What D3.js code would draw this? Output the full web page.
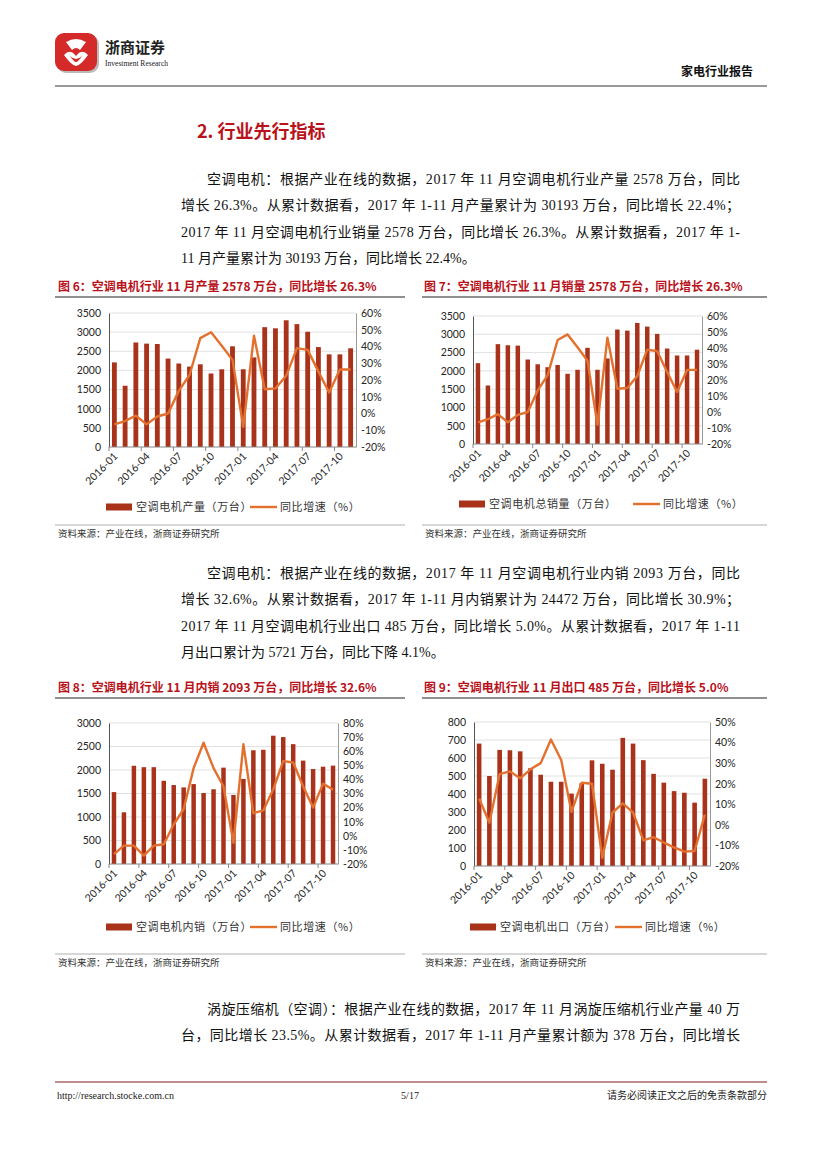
<!DOCTYPE html>
<html><head><meta charset="utf-8">
<script src="https://cdn.jsdelivr.net/npm/d3@7"></script>
<style>
html,body{margin:0;padding:0;background:#fff;}
svg{display:block;}
</style></head>
<body>
<svg id="page" width="827" height="1169"></svg>
<script>
// ---------------- DATA ----------------
const months = ["2016-01","2016-02","2016-03","2016-04","2016-05","2016-06","2016-07","2016-08","2016-09","2016-10","2016-11","2016-12",
"2017-01","2017-02","2017-03","2017-04","2017-05","2017-06","2017-07","2017-08","2017-09","2017-10","2017-11"];
const tickMonths = ["2016-01","2016-04","2016-07","2016-10","2017-01","2017-04","2017-07","2017-10"];

const productionValues = [2210,1600,2730,2700,2690,2310,2180,2100,2160,1920,2030,2630,2030,2340,3130,3100,3310,3210,3010,2610,2420,2420,2578];
const productionGrowth = [-6.5,-4.5,-1.3,-6.5,-1.8,0,13.5,23,45,48.5,40.5,32,-8,46.5,14.5,15,22.5,39,38,25,12.5,26.3,26.3];

const salesValues = [2210,1600,2730,2700,2690,2310,2180,2100,2160,1920,2030,2630,2030,2340,3130,3100,3310,3210,3010,2610,2420,2420,2578];
const salesGrowth = [-6.5,-4.5,-1.3,-6.5,-1.8,0,13.5,23,45,48.5,40.5,32,-8,46.5,14.5,15,22.5,39,38,25,12.5,26.3,26.3];

const domesticValues = [1530,1100,2090,2060,2060,1770,1680,1630,1700,1510,1590,2050,1470,1810,2420,2430,2730,2700,2550,2200,2020,2070,2093];
const domesticGrowth = [-13,-7,-7,-14,-7,-6,8,19,48,66,48,35,-5,65,16,18,33,53,52,35,20,37,32.6];

const exportValues = [680,500,645,643,637,543,507,468,468,402,460,587,568,535,712,680,588,512,463,416,407,352,485];
const exportGrowth = [12.8,1,24.7,26,22.6,27,30,41.5,31.5,6.3,20.5,20,-16,6,10.4,6,-7.5,-6,-8.6,-11,-13,-12.7,5];

const leftTicks1 = [0,500,1000,1500,2000,2500,3000,3500];
const rightTicks1 = [-20,-10,0,10,20,30,40,50,60];
const leftTicks3 = [0,500,1000,1500,2000,2500,3000];
const rightTicks3 = [-20,-10,0,10,20,30,40,50,60,70,80];
const leftTicks4 = [0,100,200,300,400,500,600,700,800];
const rightTicks4 = [-20,-10,0,10,20,30,40,50];

const figTitles = ["图 6：空调电机行业 11 月产量 2578 万台，同比增长 26.3%",
                   "图 7：空调电机行业 11 月销量 2578 万台，同比增长 26.3%",
                   "图 8：空调电机行业 11 月内销 2093 万台，同比增长 32.6%",
                   "图 9：空调电机行业 11 月出口 485 万台，同比增长 5.0%"];
const barLabels = ["空调电机产量（万台）","空调电机总销量（万台）","空调电机内销（万台）","空调电机出口（万台）"];
const lineLabel = "同比增速（%）";
const sourceText = "资料来源：产业在线，浙商证券研究所";

const para1 = ["空调电机：根据产业在线的数据，2017 年 11 月空调电机行业产量 2578 万台，同比",
               "增长 26.3%。从累计数据看，2017 年 1-11 月产量累计为 30193 万台，同比增长 22.4%；",
               "2017 年 11 月空调电机行业销量 2578 万台，同比增长 26.3%。从累计数据看，2017 年 1-",
               "11 月产量累计为 30193 万台，同比增长 22.4%。"];
const para2 = ["空调电机：根据产业在线的数据，2017 年 11 月空调电机行业内销 2093 万台，同比",
               "增长 32.6%。从累计数据看，2017 年 1-11 月内销累计为 24472 万台，同比增长 30.9%；",
               "2017 年 11 月空调电机行业出口 485 万台，同比增长 5.0%。从累计数据看，2017 年 1-11",
               "月出口累计为 5721 万台，同比下降 4.1%。"];
const para3 = ["涡旋压缩机（空调）：根据产业在线的数据，2017 年 11 月涡旋压缩机行业产量 40 万",
               "台，同比增长 23.5%。从累计数据看，2017 年 1-11 月产量累计额为 378 万台，同比增长"];

// ---------------- STYLE ----------------
const BAR = "#A8321A";
const LINE = "#E4702E";
const RED = "#B8121B";
const CJK = "'Noto Sans CJK SC','Noto Sans',sans-serif";
const SERIF = "'Liberation Serif','Noto Sans CJK SC',serif";
const TICKF = "Lato,'Liberation Sans',sans-serif";

const svg = d3.select("#page");

// ---------------- HEADER ----------------
const logo = svg.append("g");
logo.append("rect").attr("x",55).attr("y",33).attr("width",42).attr("height",38).attr("rx",9)
  .attr("fill","#bbb").attr("transform","translate(2,2)");
logo.append("rect").attr("x",55).attr("y",33).attr("width",42).attr("height",38).attr("rx",9).attr("fill","#D42A2A");
logo.append("path").attr("d","M66,42 Q76,36 86,42 L80,50 Q76,46 72,50 Z").attr("fill","#fff");
logo.append("path").attr("d","M64,55 Q70,48 76,56 Q82,48 88,55 Q80,66 76,66 Q72,66 64,55 Z").attr("fill","#fff");
logo.append("path").attr("d","M70,56 Q76,62 82,56 Q78,62 76,62 Q74,62 70,56 Z").attr("fill","#D42A2A");
svg.append("text").attr("x",105).attr("y",53).text("浙商证券")
  .attr("font-family",CJK).attr("font-size",15).attr("font-weight","bold").attr("fill","#222");
svg.append("text").attr("x",105).attr("y",66).text("Investment Research")
  .attr("font-family",SERIF).attr("font-size",9).attr("fill","#222").attr("textLength",63).attr("lengthAdjust","spacingAndGlyphs");
svg.append("text").attr("x",753).attr("y",76).attr("text-anchor","end").text("家电行业报告")
  .attr("font-family",CJK).attr("font-size",12).attr("font-weight","bold").attr("fill","#111");
svg.append("line").attr("x1",55).attr("x2",767).attr("y1",86).attr("y2",86).attr("stroke","#777").attr("stroke-width",1.5);

svg.append("text").attr("x",197).attr("y",138).text("2. 行业先行指标")
  .attr("font-family",CJK).attr("font-size",18).attr("font-weight","bold").attr("fill",RED);

// ---------------- PARAGRAPHS ----------------
function paragraph(lines, firstY, justifyAll){
  lines.forEach((t,i)=>{
    const x = i===0 ? 207 : 181;
    const el = svg.append("text").attr("x",x).attr("y",firstY + i*26.3).text(t)
      .attr("font-family",SERIF).attr("font-size",14).attr("fill","#111");
    if (i < lines.length-1 || justifyAll) el.attr("textLength",740 - x).attr("lengthAdjust","spacing");
  });
}
paragraph(para1, 184, false);
paragraph(para2, 578, false);
paragraph(para3, 1014, true);

// ---------------- CHARTS ----------------
function chart(cfg){
  const g = svg.append("g");
  // title
  g.append("text").attr("x",cfg.tx).attr("y",cfg.ty).text(cfg.title)
    .attr("font-family",CJK).attr("font-size",12).attr("font-weight","bold").attr("fill",RED);
  g.append("line").attr("x1",cfg.bx0).attr("x2",cfg.bx1).attr("y1",cfg.ty+6).attr("y2",cfg.ty+6)
    .attr("stroke","#222").attr("stroke-width",1.2);
  g.append("line").attr("x1",cfg.bx0).attr("x2",cfg.bx1).attr("y1",cfg.sy-12).attr("y2",cfg.sy-12)
    .attr("stroke","#999").attr("stroke-width",0.8);
  g.append("text").attr("x",cfg.bx0+3).attr("y",cfg.sy).text(sourceText)
    .attr("font-family",CJK).attr("font-size",9.5).attr("fill","#333");

  const x = d3.scaleBand().domain(months).range([cfg.x0,cfg.x1]).paddingInner(0.55).paddingOuter(0.275);
  const yL = d3.scaleLinear().domain(cfg.lDomain).range([cfg.y0,cfg.y1]);
  const yR = d3.scaleLinear().domain(cfg.rDomain).range([cfg.y0,cfg.y1]);
  const step = x.step();

  // gridlines
  g.append("g").selectAll("line").data(cfg.lTicks.slice(1)).join("line")
    .attr("x1",cfg.x0).attr("x2",cfg.x1).attr("y1",d=>yL(d)).attr("y2",d=>yL(d))
    .attr("stroke","#D9D9D9").attr("stroke-width",0.8);

  // bars
  g.append("g").selectAll("rect").data(cfg.values).join("rect")
    .attr("x",(d,i)=>x(months[i])).attr("width",x.bandwidth())
    .attr("y",d=>yL(d)).attr("height",d=>yL(0)-yL(d)).attr("fill",BAR);

  // left axis
  const la = d3.axisLeft(yL).tickValues(cfg.lTicks).tickSize(0).tickPadding(8).tickFormat(d3.format("d"));
  const lg = g.append("g").attr("transform",`translate(${cfg.x0},0)`).call(la);
  lg.select(".domain").attr("stroke","#555").attr("stroke-width",1);
  lg.selectAll("text").attr("font-family",TICKF).attr("font-size",10.5).attr("fill","#262626");

  // right axis
  const ra = d3.axisRight(yR).tickValues(cfg.rTicks).tickSize(0).tickPadding(5).tickFormat(d=>d+"%");
  const rg = g.append("g").attr("transform",`translate(${cfg.x1},0)`).call(ra);
  rg.select(".domain").attr("stroke","#999").attr("stroke-width",1);
  rg.selectAll("text").attr("font-family",TICKF).attr("font-size",10.5).attr("fill","#262626");

  // bottom axis line
  g.append("line").attr("x1",cfg.x0).attr("x2",cfg.x1).attr("y1",cfg.y0).attr("y2",cfg.y0)
    .attr("stroke","#888").attr("stroke-width",1);
  // ticks at boundaries every 3 months
  const bt = months.filter((m,i)=>i%3===0);
  g.append("g").selectAll("line").data(bt).join("line")
    .attr("x1",d=>x(d)+x.bandwidth()/2-step/2).attr("x2",d=>x(d)+x.bandwidth()/2-step/2)
    .attr("y1",cfg.y0).attr("y2",cfg.y0+4).attr("stroke","#888");
  // rotated labels
  g.append("g").selectAll("text").data(tickMonths).join("text")
    .attr("transform",d=>`translate(${x(d)+x.bandwidth()/2+4},${cfg.y0+10}) rotate(-45)`)
    .attr("text-anchor","end").text(d=>d)
    .attr("font-family",TICKF).attr("font-size",10.5).attr("fill","#262626");

  // growth line
  const line = d3.line().x((d,i)=>x(months[i])+x.bandwidth()/2).y(d=>yR(d));
  g.append("path").datum(cfg.growth).attr("d",line).attr("fill","none")
    .attr("stroke",LINE).attr("stroke-width",2.4).attr("stroke-linejoin","round");

  // legend
  g.append("rect").attr("x",cfg.lgx).attr("y",cfg.lgy-3.5).attr("width",26).attr("height",7).attr("fill",BAR);
  g.append("text").attr("x",cfg.lgx+30).attr("y",cfg.lgy+4).text(cfg.barLabel)
    .attr("font-family",CJK).attr("font-size",11).attr("fill","#333").attr("letter-spacing",0.6);
  g.append("line").attr("x1",cfg.llx).attr("x2",cfg.llx+27).attr("y1",cfg.lgy).attr("y2",cfg.lgy)
    .attr("stroke",LINE).attr("stroke-width",2.4);
  g.append("text").attr("x",cfg.llx+30).attr("y",cfg.lgy+4).text(lineLabel)
    .attr("font-family",CJK).attr("font-size",11).attr("fill","#333").attr("letter-spacing",0.6);
}

chart({title:figTitles[0], tx:58, ty:291, bx0:55, bx1:405, sy:537,
  x0:109, x1:356, y0:447, y1:313, lDomain:[0,3500], rDomain:[-20,60],
  lTicks:leftTicks1, rTicks:rightTicks1, values:productionValues, growth:productionGrowth,
  barLabel:barLabels[0], lgx:106, lgy:507, llx:250});
chart({title:figTitles[1], tx:424, ty:291, bx0:422, bx1:767, sy:537,
  x0:473, x1:702, y0:444, y1:316, lDomain:[0,3500], rDomain:[-20,60],
  lTicks:leftTicks1, rTicks:rightTicks1, values:salesValues, growth:salesGrowth,
  barLabel:barLabels[1], lgx:459, lgy:504, llx:633});
chart({title:figTitles[2], tx:58, ty:692, bx0:55, bx1:405, sy:966,
  x0:109, x1:338, y0:864, y1:723, lDomain:[0,3000], rDomain:[-20,80],
  lTicks:leftTicks3, rTicks:rightTicks3, values:domesticValues, growth:domesticGrowth,
  barLabel:barLabels[2], lgx:106, lgy:927, llx:250});
chart({title:figTitles[3], tx:424, ty:692, bx0:422, bx1:767, sy:966,
  x0:474, x1:710, y0:866, y1:722, lDomain:[0,800], rDomain:[-20,50],
  lTicks:leftTicks4, rTicks:rightTicks4, values:exportValues, growth:exportGrowth,
  barLabel:barLabels[3], lgx:470, lgy:927, llx:615});

// ---------------- FOOTER ----------------
svg.append("line").attr("x1",55).attr("x2",767).attr("y1",1082).attr("y2",1082).attr("stroke","#7A1F1F").attr("stroke-width",1.2);
svg.append("text").attr("x",57).attr("y",1099).text("http://research.stocke.com.cn")
  .attr("font-family",SERIF).attr("font-size",10).attr("fill","#222");
svg.append("text").attr("x",410).attr("y",1099).attr("text-anchor","middle").text("5/17")
  .attr("font-family",SERIF).attr("font-size",10).attr("fill","#222");
svg.append("text").attr("x",767).attr("y",1099).attr("text-anchor","end").text("请务必阅读正文之后的免责条款部分")
  .attr("font-family",CJK).attr("font-size",10).attr("fill","#222");
</script>
</body></html>
